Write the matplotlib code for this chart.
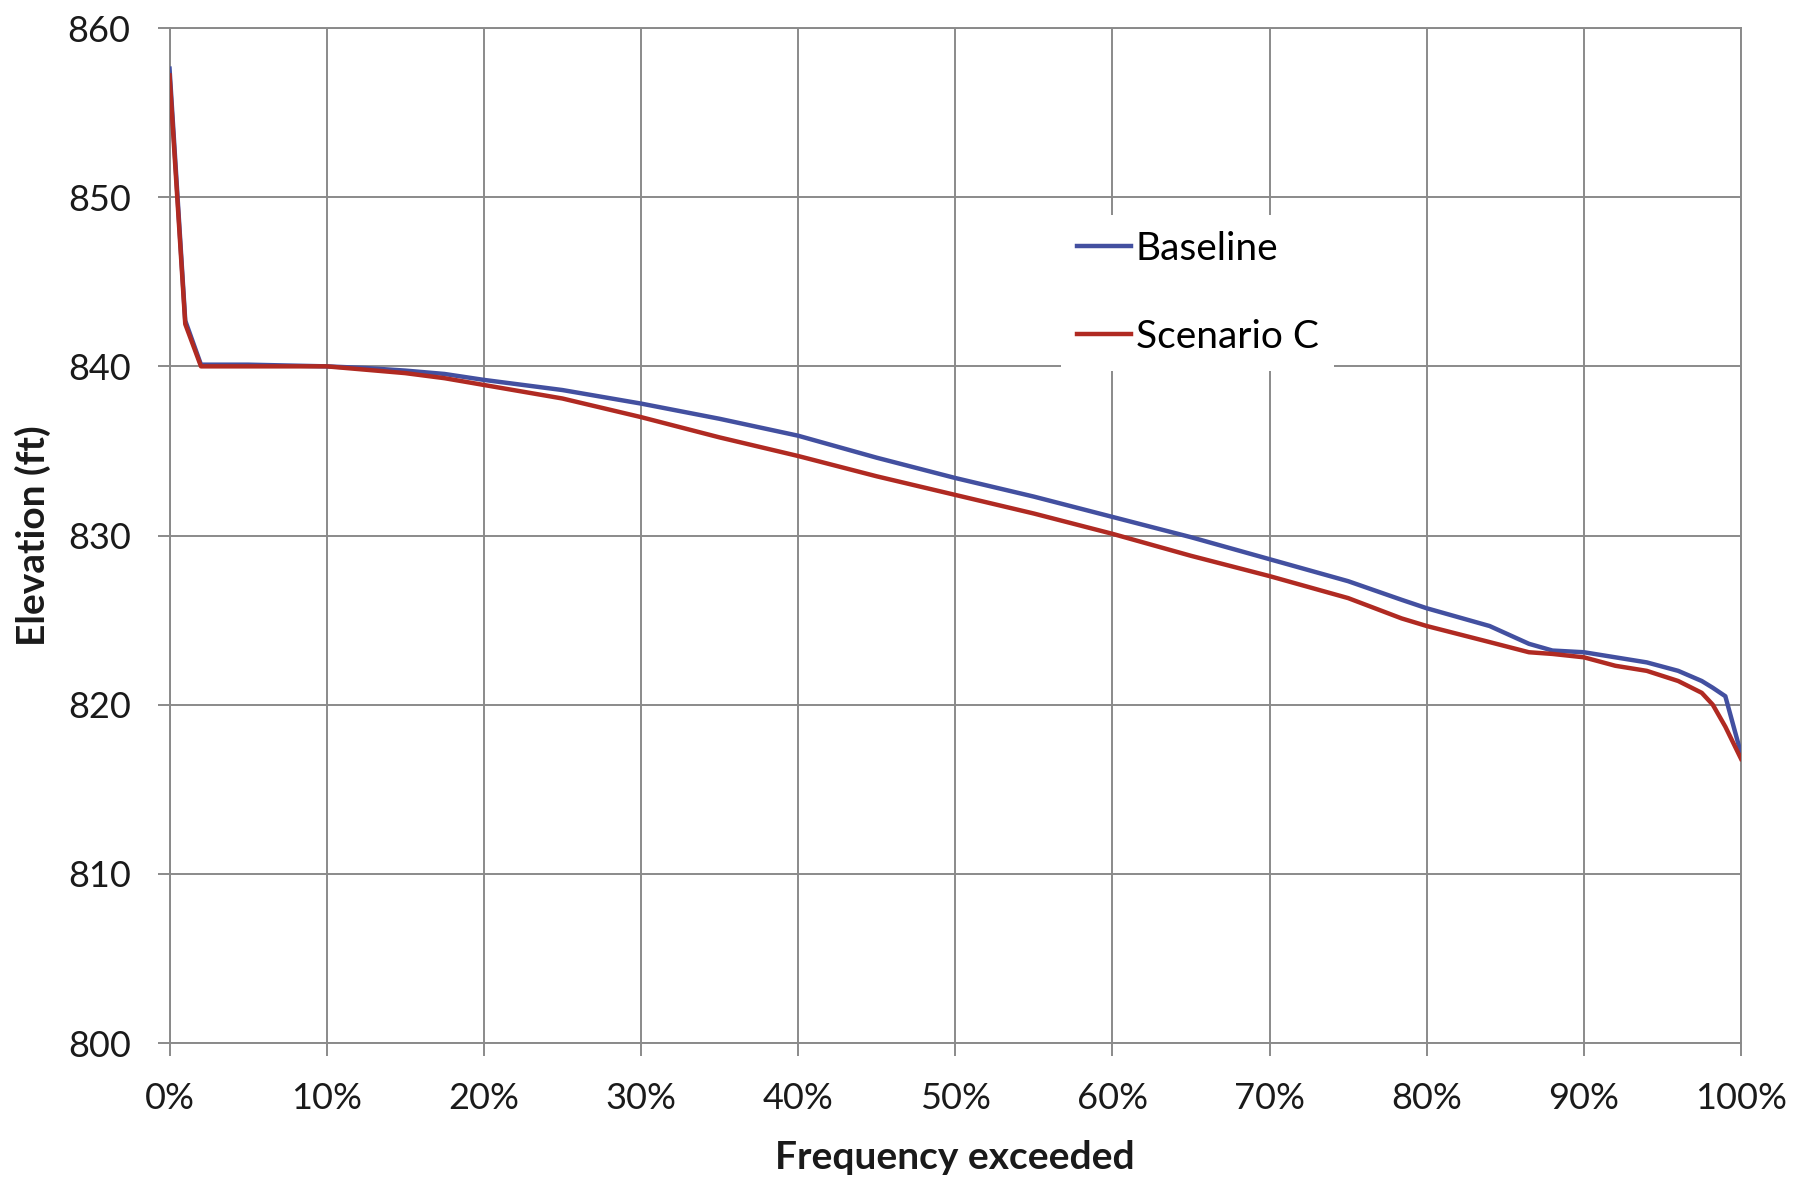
import matplotlib
matplotlib.use("Agg")
import matplotlib.pyplot as plt
from matplotlib.ticker import PercentFormatter, MultipleLocator

plt.rcParams['font.family'] = ['Lato', 'DejaVu Sans']

# Frequency exceeded (fraction) and reservoir elevations (ft)
freq = [0, 1, 2, 5, 10, 12.5, 15, 17.5, 20, 25, 30, 35, 40, 45, 50, 55, 60,
        65, 70, 75, 78.4, 80, 84, 86.5, 88, 90, 92, 94, 96, 97.5, 98.2, 99, 100]
freq = [f / 100 for f in freq]
baseline = [857.6, 842.7, 840.1, 840.1, 840.0, 839.9, 839.75, 839.55, 839.2,
            838.6, 837.8, 836.9, 835.9, 834.6, 833.4, 832.3, 831.1, 829.9,
            828.6, 827.3, 826.2, 825.7, 824.65, 823.6, 823.2, 823.1, 822.8,
            822.5, 822.0, 821.4, 821.0, 820.5, 817.1]
scenario_c = [857.2, 842.5, 840.0, 840.0, 840.0, 839.8, 839.6, 839.3, 838.9,
              838.1, 837.0, 835.8, 834.7, 833.5, 832.4, 831.3, 830.1, 828.8,
              827.6, 826.3, 825.1, 824.65, 823.7, 823.1, 823.0, 822.8, 822.3,
              822.0, 821.4, 820.7, 820.0, 818.7, 816.8]

grid_col = '#8a8a8a'
text_col = '#1a1a1a'

fig = plt.figure(figsize=(17.96, 11.78), dpi=100)
ax = fig.add_axes([0.0944, 0.1146, 0.8750, 0.8616])

ax.plot(freq, baseline, color='#4350A0', lw=3.2, label='Baseline', zorder=3)
ax.plot(freq, scenario_c, color='#B02A22', lw=3.2, label='Scenario C', zorder=4)

ax.set_xlim(0, 1)
ax.set_ylim(800, 860)
ax.xaxis.set_major_locator(MultipleLocator(0.1))
ax.yaxis.set_major_locator(MultipleLocator(10))
ax.xaxis.set_major_formatter(PercentFormatter(1.0, decimals=0))

ax.grid(True, color=grid_col, lw=1.4)
ax.set_axisbelow(True)
for s in ax.spines.values():
    s.set_color(grid_col)
    s.set_linewidth(1.4)
ax.tick_params(axis='both', colors=grid_col, length=9, width=1.4,
               labelsize=26, labelcolor=text_col)
ax.tick_params(axis='x', pad=19)
ax.tick_params(axis='y', pad=19)

ax.set_xlabel('Frequency exceeded', fontsize=28, fontweight='bold',
              color=text_col, labelpad=18)
ax.set_ylabel('Elevation (ft)', fontsize=28, fontweight='bold',
              color=text_col, labelpad=12)

leg = ax.legend(loc='upper left', bbox_to_anchor=(0.555, 0.835), fontsize=28,
                frameon=True, fancybox=False, framealpha=1, edgecolor='white',
                handlelength=1.4, handletextpad=0.12, labelspacing=1.35,
                borderpad=0.4)
leg.get_frame().set_linewidth(0)

fig.savefig('out.png', dpi=100, facecolor='white')
